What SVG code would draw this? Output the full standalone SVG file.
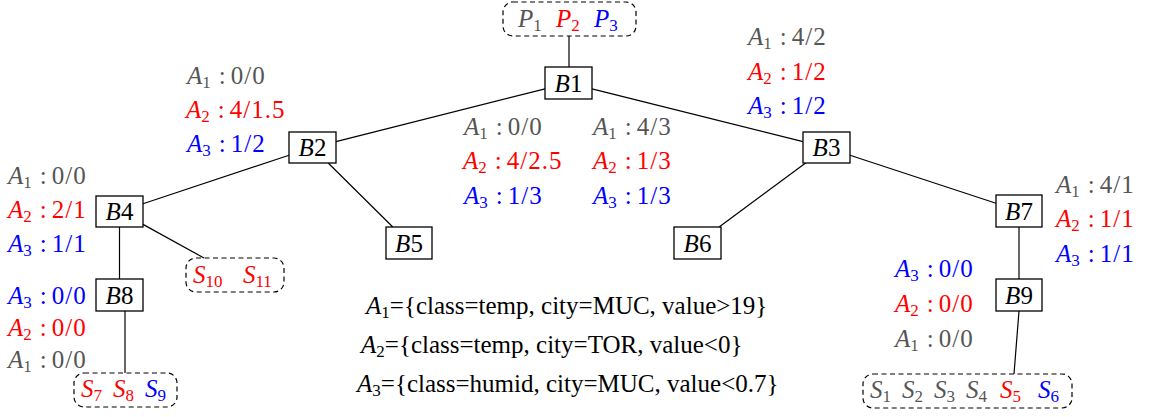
<svg xmlns="http://www.w3.org/2000/svg" width="1149" height="417" viewBox="0 0 1149 417">
<style>
.t{font-family:"Liberation Serif","Times New Roman",serif;font-size:25px;fill:#000}
.i{font-style:italic}
.s{font-size:17px}
.g{fill:#555}
.r{fill:#f00}
.b{fill:#00f}
.v{letter-spacing:1px}
.box{fill:#fff;stroke:#000;stroke-width:1.3}
.dash{fill:none;stroke:#000;stroke-width:1.2;stroke-dasharray:5 3.5}
.edge{stroke:#000;stroke-width:1.2;fill:none}
</style>
<rect width="1149" height="417" fill="#fff"/>
<g id="connectors" class="edge">
<line x1="569" y1="36" x2="569" y2="67"/>
<line x1="545" y1="88.9" x2="336" y2="141.6"/>
<line x1="592" y1="88.9" x2="803" y2="141.6"/>
<line x1="289" y1="155.3" x2="143" y2="203.7"/>
<line x1="328.2" y1="163" x2="392.8" y2="227"/>
<line x1="805.6" y1="163" x2="719.1" y2="227"/>
<line x1="850" y1="155.3" x2="996" y2="203.3"/>
<line x1="119.5" y1="227" x2="119.5" y2="279"/>
<line x1="143" y1="224.4" x2="204" y2="258"/>
<line x1="125" y1="311" x2="125" y2="373"/>
<line x1="1019" y1="227" x2="1019" y2="279"/>
<line x1="1019" y1="311" x2="1014" y2="374"/>
</g>
<g id="P">
<rect class="dash" x="503" y="2" width="133" height="34" rx="10"/>
<text class="t g" x="518" y="27"><tspan class="i">P</tspan><tspan class="s" dy="4">1</tspan></text>
<text class="t r" x="556" y="27"><tspan class="i">P</tspan><tspan class="s" dy="4">2</tspan></text>
<text class="t b" x="594" y="27"><tspan class="i">P</tspan><tspan class="s" dy="4">3</tspan></text>
</g>
<g id="B1"><rect class="box" x="545" y="67" width="47" height="32"/><text class="t" x="568.5" y="91.5" text-anchor="middle"><tspan class="i">B</tspan>1</text></g>
<g id="B2"><rect class="box" x="289" y="132" width="47" height="31"/><text class="t" x="312.5" y="156" text-anchor="middle"><tspan class="i">B</tspan>2</text></g>
<g id="B3"><rect class="box" x="803" y="132" width="47" height="31"/><text class="t" x="826.5" y="156" text-anchor="middle"><tspan class="i">B</tspan>3</text></g>
<g id="B4"><rect class="box" x="96" y="196" width="47" height="31"/><text class="t" x="119.5" y="220" text-anchor="middle"><tspan class="i">B</tspan>4</text></g>
<g id="B5"><rect class="box" x="386" y="227" width="46" height="32"/><text class="t" x="409" y="251.5" text-anchor="middle"><tspan class="i">B</tspan>5</text></g>
<g id="B6"><rect class="box" x="674" y="227" width="47" height="32"/><text class="t" x="697.5" y="251.5" text-anchor="middle"><tspan class="i">B</tspan>6</text></g>
<g id="B7"><rect class="box" x="996" y="195" width="46" height="32"/><text class="t" x="1019" y="219.5" text-anchor="middle"><tspan class="i">B</tspan>7</text></g>
<g id="B8"><rect class="box" x="96" y="279" width="47" height="32"/><text class="t" x="119.5" y="303.5" text-anchor="middle"><tspan class="i">B</tspan>8</text></g>
<g id="B9"><rect class="box" x="996" y="279" width="46" height="32"/><text class="t" x="1019" y="303.5" text-anchor="middle"><tspan class="i">B</tspan>9</text></g>
<g id="S10-11">
<rect class="dash" x="186" y="258" width="98" height="34" rx="10"/>
<text class="t r" x="193" y="283"><tspan class="i">S</tspan><tspan class="s" dy="4">10</tspan></text>
<text class="t r" x="243" y="283"><tspan class="i">S</tspan><tspan class="s" dy="4">11</tspan></text>
</g>
<g id="S7-9">
<rect class="dash" x="74" y="373" width="103" height="34" rx="10"/>
<text class="t r" x="81" y="397"><tspan class="i">S</tspan><tspan class="s" dy="4">7</tspan></text>
<text class="t r" x="113" y="397"><tspan class="i">S</tspan><tspan class="s" dy="4">8</tspan></text>
<text class="t b" x="145" y="397"><tspan class="i">S</tspan><tspan class="s" dy="4">9</tspan></text>
</g>
<g id="S1-6">
<rect class="dash" x="863" y="374" width="209" height="34" rx="10"/>
<text class="t g" x="870" y="398"><tspan class="i">S</tspan><tspan class="s" dy="4">1</tspan></text>
<text class="t g" x="902" y="398"><tspan class="i">S</tspan><tspan class="s" dy="4">2</tspan></text>
<text class="t g" x="934" y="398"><tspan class="i">S</tspan><tspan class="s" dy="4">3</tspan></text>
<text class="t g" x="966" y="398"><tspan class="i">S</tspan><tspan class="s" dy="4">4</tspan></text>
<text class="t r" x="1000" y="398"><tspan class="i">S</tspan><tspan class="s" dy="4">5</tspan></text>
<text class="t b" x="1038" y="398"><tspan class="i">S</tspan><tspan class="s" dy="4">6</tspan></text>
</g>
<g id="labels">
<text class="t g" x="187" y="84"><tspan class="i">A</tspan><tspan class="s" dy="4">1</tspan><tspan dx="8" dy="-4">:</tspan><tspan class="v" dx="5">0/0</tspan></text>
<text class="t r" x="186" y="118"><tspan class="i">A</tspan><tspan class="s" dy="4">2</tspan><tspan dx="8" dy="-4">:</tspan><tspan class="v" dx="5">4/1.5</tspan></text>
<text class="t b" x="187" y="152"><tspan class="i">A</tspan><tspan class="s" dy="4">3</tspan><tspan dx="8" dy="-4">:</tspan><tspan class="v" dx="5">1/2</tspan></text>

<text class="t g" x="8" y="184"><tspan class="i">A</tspan><tspan class="s" dy="4">1</tspan><tspan dx="8" dy="-4">:</tspan><tspan class="v" dx="5">0/0</tspan></text>
<text class="t r" x="8" y="218"><tspan class="i">A</tspan><tspan class="s" dy="4">2</tspan><tspan dx="8" dy="-4">:</tspan><tspan class="v" dx="5">2/1</tspan></text>
<text class="t b" x="8" y="252"><tspan class="i">A</tspan><tspan class="s" dy="4">3</tspan><tspan dx="8" dy="-4">:</tspan><tspan class="v" dx="5">1/1</tspan></text>

<text class="t b" x="8" y="304"><tspan class="i">A</tspan><tspan class="s" dy="4">3</tspan><tspan dx="8" dy="-4">:</tspan><tspan class="v" dx="5">0/0</tspan></text>
<text class="t r" x="8" y="336"><tspan class="i">A</tspan><tspan class="s" dy="4">2</tspan><tspan dx="8" dy="-4">:</tspan><tspan class="v" dx="5">0/0</tspan></text>
<text class="t g" x="8" y="368"><tspan class="i">A</tspan><tspan class="s" dy="4">1</tspan><tspan dx="8" dy="-4">:</tspan><tspan class="v" dx="5">0/0</tspan></text>

<text class="t g" x="464" y="135"><tspan class="i">A</tspan><tspan class="s" dy="4">1</tspan><tspan dx="8" dy="-4">:</tspan><tspan class="v" dx="5">0/0</tspan></text>
<text class="t r" x="463" y="169"><tspan class="i">A</tspan><tspan class="s" dy="4">2</tspan><tspan dx="8" dy="-4">:</tspan><tspan class="v" dx="5">4/2.5</tspan></text>
<text class="t b" x="464" y="204"><tspan class="i">A</tspan><tspan class="s" dy="4">3</tspan><tspan dx="8" dy="-4">:</tspan><tspan class="v" dx="5">1/3</tspan></text>

<text class="t g" x="593" y="135"><tspan class="i">A</tspan><tspan class="s" dy="4">1</tspan><tspan dx="8" dy="-4">:</tspan><tspan class="v" dx="5">4/3</tspan></text>
<text class="t r" x="593" y="169"><tspan class="i">A</tspan><tspan class="s" dy="4">2</tspan><tspan dx="8" dy="-4">:</tspan><tspan class="v" dx="5">1/3</tspan></text>
<text class="t b" x="593" y="204"><tspan class="i">A</tspan><tspan class="s" dy="4">3</tspan><tspan dx="8" dy="-4">:</tspan><tspan class="v" dx="5">1/3</tspan></text>

<text class="t g" x="748" y="45"><tspan class="i">A</tspan><tspan class="s" dy="4">1</tspan><tspan dx="8" dy="-4">:</tspan><tspan class="v" dx="5">4/2</tspan></text>
<text class="t r" x="748" y="80"><tspan class="i">A</tspan><tspan class="s" dy="4">2</tspan><tspan dx="8" dy="-4">:</tspan><tspan class="v" dx="5">1/2</tspan></text>
<text class="t b" x="748" y="114"><tspan class="i">A</tspan><tspan class="s" dy="4">3</tspan><tspan dx="8" dy="-4">:</tspan><tspan class="v" dx="5">1/2</tspan></text>

<text class="t g" x="1056" y="193"><tspan class="i">A</tspan><tspan class="s" dy="4">1</tspan><tspan dx="8" dy="-4">:</tspan><tspan class="v" dx="5">4/1</tspan></text>
<text class="t r" x="1056" y="227"><tspan class="i">A</tspan><tspan class="s" dy="4">2</tspan><tspan dx="8" dy="-4">:</tspan><tspan class="v" dx="5">1/1</tspan></text>
<text class="t b" x="1056" y="262"><tspan class="i">A</tspan><tspan class="s" dy="4">3</tspan><tspan dx="8" dy="-4">:</tspan><tspan class="v" dx="5">1/1</tspan></text>

<text class="t b" x="895" y="277"><tspan class="i">A</tspan><tspan class="s" dy="4">3</tspan><tspan dx="8" dy="-4">:</tspan><tspan class="v" dx="5">0/0</tspan></text>
<text class="t r" x="895" y="312"><tspan class="i">A</tspan><tspan class="s" dy="4">2</tspan><tspan dx="8" dy="-4">:</tspan><tspan class="v" dx="5">0/0</tspan></text>
<text class="t g" x="895" y="347"><tspan class="i">A</tspan><tspan class="s" dy="4">1</tspan><tspan dx="8" dy="-4">:</tspan><tspan class="v" dx="5">0/0</tspan></text>
</g>
<g id="legend">
<text class="t" x="366" y="314"><tspan class="i">A</tspan><tspan class="s" dy="4">1</tspan><tspan dy="-4">={class=temp, city=MUC, value&gt;19}</tspan></text>
<text class="t" x="361" y="353"><tspan class="i">A</tspan><tspan class="s" dy="4">2</tspan><tspan dy="-4">={class=temp, city=TOR, value&lt;0}</tspan></text>
<text class="t" x="357" y="392"><tspan class="i">A</tspan><tspan class="s" dy="4">3</tspan><tspan dy="-4">={class=humid, city=MUC, value&lt;0.7}</tspan></text>
</g>
</svg>
